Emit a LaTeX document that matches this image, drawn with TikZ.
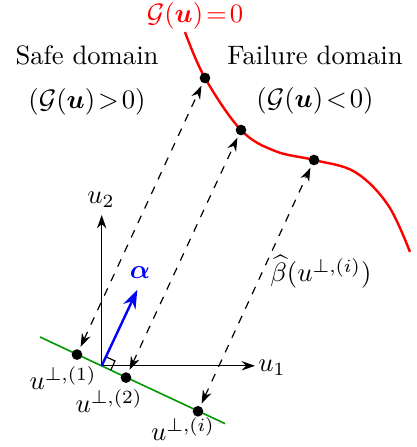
\documentclass[tikz,border=0pt]{standalone}
\usepackage{amsmath,amssymb,bm}
\usetikzlibrary{arrows.meta,calc}
\begin{document}
\begin{tikzpicture}[x=0.375pt,y=-0.375pt,
  dot/.style={circle,fill=black,inner sep=0pt,minimum size=4pt},
  proj/.style={dashed,line width=0.45pt,{Stealth[length=5pt,width=3.5pt]}-{Stealth[length=5pt,width=3.5pt]},shorten <=1pt,shorten >=1pt},
  axis/.style={line width=0.45pt,-{Stealth[length=5pt,width=3.5pt]}},
  lbl/.style={inner sep=0pt}]
\useasboundingbox (0,0) rectangle (417,447);
% coordinates
\coordinate (O) at (101.7,365.8);
% limit state curve
\draw[red,line width=0.9pt] plot[smooth,tension=0.6] coordinates
  {(185,32) (205,78) (241,130) (275,151) (314,160) (355,172) (388,205) (410,252)};
\node[dot] (c1) at (205,78) {};
\node[dot] (c2) at (241,130) {};
\node[dot] (c3) at (314,160) {};
% green line
\draw[green!60!black,line width=0.6pt] (40,337) coordinate (g1) -- (225,423.6) coordinate (g2);
\node[dot] (p1) at (77,354.6) {};
\node[dot] (p2) at (126,377.6) {};
\node[dot] (pi) at (198,411.3) {};
% axes
\draw[axis] (O) -- (255,365.8) coordinate (x1);
\draw[axis] (O) -- (101.7,215) coordinate (y1);
% right angle mark
\draw[line width=0.45pt] ($(O)+(25.1:10)$) -- ++(-64.9:10) -- ($(O)+(-64.9:10)$);
% alpha
\draw[blue,line width=0.9pt,-{Stealth[length=7pt,width=5pt]}] (O) -- ++(-64.9:84) coordinate (a1);
% projections
\draw[proj] (p1) -- (c1);
\draw[proj] (p2) -- (c2);
\draw[proj] (pi) -- (c3);
% labels
\node[lbl,red] (gl) at (195,16) {$\mathcal{G}(\boldsymbol{u})\!=\!0$};
\node[lbl] (sd) at (87,55) {Safe domain};
\node[lbl] (sg) at (87,102) {$(\mathcal{G}(\boldsymbol{u})\!>\!0)$};
\node[lbl] (fd) at (315,55) {Failure domain};
\node[lbl] (fg) at (315,101) {$(\mathcal{G}(\boldsymbol{u})\!<\!0)$};
\node[lbl] (bl) at (321,272) {$\widehat{\beta}(u^{\perp,(i)})$};
\node[lbl] (u2) at (101,200) {$u_2$};
\node[lbl] (u1) at (272,368) {$u_1$};
\node[lbl,blue] (al) at (140,273) {$\boldsymbol{\alpha}$};
\node[lbl] (l1) at (63,378) {$u^{\perp,(1)}$};
\node[lbl] (l2) at (109,401) {$u^{\perp,(2)}$};
\node[lbl] (li) at (183,429) {$u^{\perp,(i)}$};
\end{tikzpicture}
\end{document}
